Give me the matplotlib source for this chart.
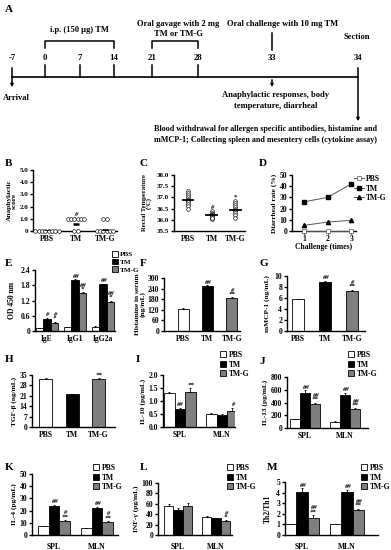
import matplotlib
matplotlib.use('Agg')
import matplotlib.pyplot as plt
import numpy as np
from matplotlib.patches import Patch
from matplotlib.lines import Line2D

plt.rcParams['font.family'] = ['Liberation Serif', 'DejaVu Serif']
plt.rcParams['font.weight'] = 'bold'
plt.rcParams['axes.labelweight'] = 'bold'
plt.rcParams['font.size'] = 5.5
plt.rcParams['axes.linewidth'] = 1.0
plt.rcParams['xtick.major.width'] = 1.0
plt.rcParams['ytick.major.width'] = 1.0
plt.rcParams['ytick.major.size'] = 2
plt.rcParams['xtick.major.size'] = 0
plt.rcParams['ytick.major.pad'] = 1.5
plt.rcParams['xtick.major.pad'] = 3

# ---- data ----
groups = ['PBS', 'TM', 'TM-G']
colors = ['white', 'black', '#7f7f7f']

# A: timeline
days = [-7, 0, 7, 14, 21, 28, 33, 34]

# B: anaphylactic score per mouse
b_scores = [[0, 0, 0, 0, 0, 0, 0, 0],
            [1, 1, 1, 1, 1, 1, 0, 0],
            [1, 1, 0, 0, 0, 0, 0, 0]]
b_means = [0, 0.55, 0.08]

# C: rectal temperature
c_temps = [[37.3, 37.2, 37.1, 37.0, 36.95, 36.9, 36.85, 36.8, 36.7, 36.6, 36.5],
           [36.4, 36.3, 36.25, 36.2, 36.2, 36.15, 36.1, 36.05, 36.1],
           [36.85, 36.75, 36.65, 36.55, 36.5, 36.45, 36.4, 36.3, 36.2, 36.1]]
c_means = [36.9, 36.2, 36.45]

# D: diarrheal rate
d_challenge = [1, 2, 3]
d_pbs = [0, 0, 0]
d_tm = [26, 30, 42]
d_tmg = [5, 8, 9.5]

# E: antibodies
e_cats = ['IgE', 'IgG1', 'IgG2a']
e_vals = [[0.10, 0.15, 0.15], [0.48, 2.00, 1.83], [0.33, 1.48, 1.15]]
e_errs = [[0.02, 0.02, 0.05], [0.03, 0.04, 0.03], [0.03, 0.04, 0.05]]
e_marks = [['', '', ''], ['#', '##', '##'], ['#\n*', '##\n*', '##\n*']]

# F, G, H: single bars
f_vals = [125, 255, 185]
f_errs = [3, 5, 5]
f_marks = ['', '##', '#\n**']
g_vals = [5.8, 9.0, 7.3]
g_errs = [0.1, 0.15, 0.2]
g_marks = ['', '##', '#\n**']
h_vals = [32.5, 22.0, 32.0]
h_errs = [0.6, 0.4, 1.0]
h_marks = ['', '', '**']

# I-M: cytokines in SPL and MLN
tissues = ['SPL', 'MLN']
i_vals = [[1.30, 0.50], [0.70, 0.45], [1.35, 0.60]]
i_errs = [[0.05, 0.03], [0.05, 0.05], [0.15, 0.15]]
i_marks = [['', ''], ['##', ''], ['**', '#']]
j_vals = [[135, 100], [550, 525], [380, 300]]
j_errs = [[10, 10], [40, 30], [20, 10]]
j_marks = [['', ''], ['##', '##'], ['##\n**', '##\n**']]
k_vals = [[7.0, 5.5], [24.0, 22.0], [11.5, 11.0]]
k_errs = [[0.5, 0.5], [1.0, 1.0], [0.8, 0.5]]
k_marks = [['', ''], ['##', '##'], ['#\n**', '#\n**']]
l_vals = [[55, 34], [48, 32], [56, 26]]
l_errs = [[4, 2], [3, 1], [6, 2]]
l_marks = [['', ''], ['', ''], ['', '#\n*']]
m_vals = [[1.0, 1.0], [4.05, 4.05], [1.65, 2.4]]
m_errs = [[0.05, 0.05], [0.35, 0.2], [0.25, 0.1]]
m_marks = [['', ''], ['##', '##'], ['##\n**', '##\n**']]

W, H = 391, 550
fig = plt.figure(figsize=(W / 100, H / 100), dpi=100)


def box(x0, y0, x1, y1):
    ax = fig.add_axes([x0 / W, 1 - y1 / H, (x1 - x0) / W, (y1 - y0) / H])
    ax.spines['top'].set_visible(False)
    ax.spines['right'].set_visible(False)
    ax.tick_params(direction='out')
    return ax


def letter(x, y, s):
    fig.text(x / W, 1 - y / H, s, fontsize=8, fontweight='bold', ha='left', va='center')


def legend_at(x, y, fs=5.5):
    handles = [Patch(facecolor=c, edgecolor='black', linewidth=0.6) for c in colors]
    fig.legend(handles, groups, loc='upper left', bbox_to_anchor=(x / W, 1 - y / H),
               frameon=False, fontsize=fs, handlelength=0.85, handleheight=0.85,
               handletextpad=0.3, labelspacing=0.2, borderpad=0, borderaxespad=0)


def single_bars(ax, vals, errs, marks, width):
    x = np.arange(len(vals))
    ax.bar(x, vals, width, color=colors, edgecolor='black', linewidth=0.6,
           yerr=[np.zeros(len(errs)), errs], error_kw=dict(elinewidth=0.6, capsize=1, capthick=0.6))
    top = ax.get_ylim()[1]
    for xi, v, e, m in zip(x, vals, errs, marks):
        if m:
            ax.text(xi, v + e + top * 0.01, m, ha='center', va='bottom', fontsize=4.8,
                    linespacing=0.75, style='italic')
    ax.set_xticks(x)
    ax.set_xticklabels(groups)


def grouped_bars(ax, vals, errs, marks, cats, width=0.25):
    x = np.arange(len(cats))
    top = ax.get_ylim()[1]
    for k in range(3):
        xs = x + (k - 1) * width
        ax.bar(xs, vals[k], width, color=colors[k], edgecolor='black', linewidth=0.6,
               yerr=[np.zeros(len(errs[k])), errs[k]],
               error_kw=dict(elinewidth=0.6, capsize=0.8, capthick=0.6))
        for xi, v, e, m in zip(xs, vals[k], errs[k], marks[k]):
            if m:
                ax.text(xi, v + e + top * 0.01, m, ha='center', va='bottom', fontsize=4.8,
                        linespacing=0.75, style='italic')
    ax.set_xticks(x)
    ax.set_xticklabels(cats)


# ---- A: timeline schematic ----
axa = fig.add_axes([0, 0, 1, 1])
axa.set_xlim(0, W)
axa.set_ylim(H, 0)
axa.axis('off')
day_px = [12, 45, 80, 114, 152, 198, 272, 358]
yl = 77
fsa = 6.1
axa.plot([day_px[0], day_px[-1]], [yl, yl], color='black', lw=1.2)
for d, xp in zip(days, day_px):
    axa.text(xp, 58, str(d), ha='center', va='center', fontsize=6.3)
    if d in (0, 7, 14, 21, 28):
        axa.plot([xp, xp], [65, yl], color='black', lw=1.1)
for xp, y_end in [(day_px[0], 90), (day_px[6], 90), (day_px[7], 124)]:
    y_start = 65 if xp != day_px[6] else yl
    axa.annotate('', xy=(xp, y_end), xytext=(xp, y_start),
                 arrowprops=dict(arrowstyle='-|>', color='black', lw=1.1, mutation_scale=4))
axa.plot([day_px[6], day_px[6]], [33, 50], color='black', lw=1.1)
for a, b in [(day_px[1], day_px[3]), (day_px[4], day_px[5])]:
    axa.plot([a, a, b, b], [48, 41, 41, 48], color='black', lw=1.1)
axa.text(79, 30, 'i.p. (150 μg) TM', ha='center', va='center', fontsize=fsa)
axa.text(178, 24, 'Oral gavage with 2 mg', ha='center', va='center', fontsize=fsa)
axa.text(178, 34, 'TM or TM-G', ha='center', va='center', fontsize=fsa)
axa.text(283, 24, 'Oral challenge with 10 mg TM', ha='center', va='center', fontsize=fsa)
axa.text(357, 37, 'Section', ha='center', va='center', fontsize=fsa)
axa.text(3, 98, 'Arrival', ha='left', va='center', fontsize=fsa)
axa.text(276, 95, 'Anaphylactic responses, body', ha='center', va='center', fontsize=fsa)
axa.text(276, 106, 'temperature, diarrheal', ha='center', va='center', fontsize=fsa)
axa.text(154, 129, 'Blood withdrawal for allergen specific antibodies, histamine and',
         ha='left', va='center', fontsize=5.9)
axa.text(154, 140, 'mMCP-1; Collecting spleen and mesentery cells (cytokine assay)',
         ha='left', va='center', fontsize=5.9)
letter(5, 10, 'A')

# ---- B ----
ax = box(33, 170, 117, 231)
for g, scores in enumerate(b_scores):
    scores = np.array(scores)
    for val in np.unique(scores):
        n = np.sum(scores == val)
        off = (np.arange(n) - (n - 1) / 2) * 0.115
        ax.scatter(g + off, [val] * n, s=7, facecolors='white', edgecolors='black',
                   linewidths=0.45, zorder=3, clip_on=False)
    ax.plot([g - 0.1, g + 0.1], [b_means[g]] * 2, color='black', lw=1.8, zorder=4,
            solid_capstyle='butt')
ax.text(1, 1.15, '#', ha='center', va='bottom', fontsize=4.8, style='italic')
ax.set_xlim(-0.48, 2.42)
ax.set_ylim(0, 5)
ax.set_yticks(np.arange(0, 5.1, 1))
ax.set_yticklabels(['0', '1.0', '2.0', '3.0', '4.0', '5.0'], fontsize=5)
ax.set_xticks(range(3))
ax.set_xticklabels(groups)
ax.set_ylabel('Anaphylactic\nscore', fontsize=5.3, labelpad=2, linespacing=0.9)
letter(5, 163, 'B')

# ---- C ----
ax = box(174, 175, 245, 231)
for g, temps in enumerate(c_temps):
    ax.scatter([g] * len(temps), temps, s=7, facecolors='white', edgecolors='black',
               linewidths=0.45, zorder=3)
    ax.plot([g - 0.22, g + 0.22], [c_means[g]] * 2, color='black', lw=1.3, zorder=4)
ax.text(1, 36.42, '#', ha='center', va='bottom', fontsize=4.8, style='italic')
ax.text(2, 36.92, '*', ha='center', va='bottom', fontsize=4.8)
ax.set_xlim(-0.58, 2.4)
ax.set_ylim(35.5, 38.0)
ax.set_yticks(np.arange(35.5, 38.01, 0.5))
ax.set_yticklabels(['35.5', '36.0', '36.5', '37.0', '37.5', '38.0'], fontsize=5)
ax.set_xticks(range(3))
ax.set_xticklabels(groups)
ax.set_ylabel('Rectal Temperature\n(°C)', fontsize=4.8, labelpad=3, linespacing=0.9)
letter(140, 163, 'C')

# ---- D ----
ax = box(292, 175, 356, 231)
ax.plot(d_challenge, d_pbs, color='#555555', lw=0.7, marker='s', ms=2.6, mfc='white',
        mec='#555555', mew=0.5, clip_on=False, zorder=3)
ax.plot(d_challenge, d_tm, color='#555555', lw=0.7, marker='s', ms=3, mfc='black',
        mec='black', clip_on=False, zorder=3)
ax.plot(d_challenge, d_tmg, color='#555555', lw=0.7, marker='^', ms=3, mfc='black',
        mec='black', clip_on=False, zorder=3)
ax.set_xlim(0.5, 3.2)
ax.set_ylim(0, 50)
ax.set_yticks(range(0, 51, 10))
ax.set_xticks(d_challenge)
ax.tick_params(axis='x', length=2, pad=1)
ax.set_xlabel('Challenge (times)', fontsize=5.5, labelpad=0)
ax.set_ylabel('Diarrheal rate (%)', fontsize=5.3, labelpad=2)
dh = [Line2D([], [], color='#555555', lw=0.7, marker='s', ms=2.6, mfc='white', mec='#555555', mew=0.5),
      Line2D([], [], color='#555555', lw=0.7, marker='s', ms=3, mfc='black', mec='black'),
      Line2D([], [], color='#555555', lw=0.7, marker='^', ms=3, mfc='black', mec='black')]
fig.legend(dh, groups, loc='upper left', bbox_to_anchor=(354 / W, 1 - 175 / H), frameon=False,
           fontsize=5.5, handlelength=1.3, handletextpad=0.3, labelspacing=0.2, borderpad=0,
           borderaxespad=0)
letter(259, 163, 'D')

# ---- E ----
ax = box(35, 270, 115, 331)
ax.set_ylim(0, 2.4)
ax.set_xlim(-0.43, 2.43)
grouped_bars(ax, e_vals, e_errs, e_marks, e_cats, width=0.27)
ax.set_yticks([0, 0.6, 1.2, 1.8, 2.4])
ax.set_yticklabels(['0', '0.6', '1.2', '1.8', '2.4'])
ax.set_ylabel('OD 450 nm', fontsize=5.5, labelpad=3)
legend_at(112, 251, fs=5.1)
letter(5, 263, 'E')

# ---- F ----
ax = box(164, 278, 240, 331)
ax.set_ylim(0, 300)
ax.set_xlim(-0.78, 2.33)
single_bars(ax, f_vals, f_errs, f_marks, 0.45)
ax.set_yticks(range(0, 301, 60))
ax.set_ylabel('Histamine in serum\n(ng/mL)', fontsize=5.3, labelpad=1.5, linespacing=0.9)
letter(140, 264, 'F')

# ---- G ----
ax = box(287, 276, 365, 331)
ax.set_ylim(0, 10)
ax.set_xlim(-0.4, 2.48)
single_bars(ax, g_vals, g_errs, g_marks, 0.42)
ax.set_yticks(range(0, 11, 2))
ax.set_ylabel('mMCP-1 (ng/mL)', fontsize=5.3, labelpad=3)
letter(259, 263, 'G')

# ---- H ----
ax = box(32, 375, 115, 427)
ax.set_ylim(0, 35)
ax.set_xlim(-0.51, 2.62)
single_bars(ax, h_vals, h_errs, h_marks, 0.49)
ax.set_yticks(range(0, 36, 7))
ax.set_ylabel('TGF-β (ng/mL)', fontsize=5.3, labelpad=2)
letter(5, 360, 'H')

# ---- I ----
ax = box(163, 375, 235, 427)
ax.set_ylim(0, 2)
ax.set_xlim(-0.4, 1.31)
grouped_bars(ax, i_vals, i_errs, i_marks, tissues)
ax.set_yticks([0, 0.5, 1.0, 1.5, 2.0])
ax.set_yticklabels(['0.0', '0.5', '1.0', '1.5', '2.0'])
ax.set_ylabel('IL-10 (pg/mL)', fontsize=5.3, labelpad=2)
legend_at(220, 351)
letter(136, 360, 'I')

# ---- J ----
ax = box(287, 377, 368, 428)
ax.set_ylim(0, 800)
ax.set_xlim(-0.45, 1.57)
grouped_bars(ax, j_vals, j_errs, j_marks, tissues)
ax.set_yticks(range(0, 801, 200))
ax.set_ylabel('IL-13 (pg/mL)', fontsize=5.3, labelpad=2)
legend_at(348, 351)
letter(259, 361, 'J')

# ---- K ----
ax = box(32, 474, 118, 535)
ax.set_ylim(0, 50)
ax.set_xlim(-0.51, 1.49)
grouped_bars(ax, k_vals, k_errs, k_marks, tissues)
ax.set_yticks(range(0, 51, 10))
ax.set_ylabel('IL-4 (pg/mL)', fontsize=5.3, labelpad=2)
ax.tick_params(axis='x', pad=6)
legend_at(93, 464)
letter(5, 467, 'K')

# ---- L ----
ax = box(158, 483, 232, 535)
ax.set_ylim(0, 100)
ax.set_xlim(-0.53, 1.42)
grouped_bars(ax, l_vals, l_errs, l_marks, tissues)
ax.set_yticks(range(0, 101, 20))
ax.set_ylabel('INF-γ (pg/mL)', fontsize=5.3, labelpad=2)
ax.tick_params(axis='x', pad=6)
legend_at(227, 464)
letter(140, 467, 'L')

# ---- M ----
ax = box(285, 482, 378, 535)
ax.set_ylim(0, 5)
ax.set_xlim(-0.38, 1.69)
grouped_bars(ax, m_vals, m_errs, m_marks, tissues)
ax.set_yticks(range(0, 6))
ax.set_ylabel('Th2/Th1', fontsize=5.5, labelpad=3)
ax.tick_params(axis='x', pad=6)
legend_at(361, 464)
letter(267, 467, 'M')

fig.savefig('out.png', dpi=100)
